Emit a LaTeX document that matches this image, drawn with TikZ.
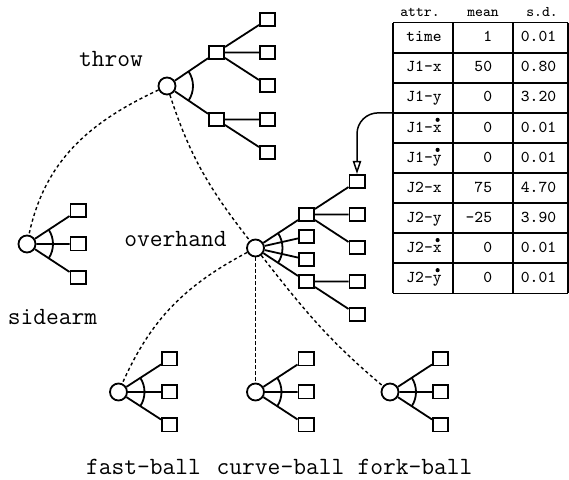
\documentclass[tikz,border=0pt]{standalone}
\usepackage{fontspec}
\usetikzlibrary{arrows.meta}

\begin{document}
\begin{tikzpicture}[x=0.5pt,y=-0.5pt,
  leaf/.style={draw, line width=0.9pt, minimum width=7.6pt, minimum height=6.6pt, inner sep=0pt},
  orn/.style={draw, circle, line width=0.9pt, minimum size=8.5pt, inner sep=0pt, fill=white},
  link/.style={line width=0.9pt},
  isa/.style={line width=0.7pt, dash pattern=on 1.6pt off 1.4pt},
  lbl/.style={font=\ttfamily\fontsize{12.4}{14}\selectfont, anchor=base, inner sep=0pt},
  cell/.style={font=\ttfamily\fontsize{8.3}{9}\selectfont, anchor=base, inner sep=0pt},
  head/.style={font=\ttfamily\fontsize{7.4}{8}\selectfont, anchor=base, inner sep=0pt},
  grid/.style={line width=0.8pt},
  pointer/.style={line width=0.75pt, rounded corners=10.5pt,
    -{Triangle[open, length=6.5pt, width=4.2pt, line width=0.75pt]}}]
\useasboundingbox (0,0) rectangle (569,480);

% ---------- throw ----------
\node[orn] (throw) at (167,86) {};
\node[leaf] (tA) at (216.5,52.5) {};
\node[leaf] (tB) at (216.5,119.5) {};
\node[leaf] (tA1) at (267.5,19.5) {};
\node[leaf] (tA2) at (267.5,52.5) {};
\node[leaf] (tA3) at (267.5,85.5) {};
\node[leaf] (tB1) at (267.5,119.5) {};
\node[leaf] (tB2) at (267.5,152.5) {};
\draw[link] (throw) -- (tA) (throw) -- (tB)
  (tA) -- (tA1) (tA) -- (tA2) (tA) -- (tA3) (tB) -- (tB1) (tB) -- (tB2);
\draw[link] (throw.center) ++(34:13pt) arc[start angle=34, end angle=-34, radius=13pt];
\node[lbl] (throwlbl) at (111,67) {throw};

% ---------- sidearm ----------
\node[orn] (side) at (27,244) {};
\node[leaf] (s1) at (78,210.5) {};
\node[leaf] (s2) at (78,244) {};
\node[leaf] (s3) at (78,277.5) {};
\draw[link] (side) -- (s1) (side) -- (s2) (side) -- (s3);
\draw[link] (side.center) ++(33.3:13pt) arc[start angle=33.3, end angle=-33.3, radius=13pt];
\node[lbl] (sidelbl) at (52.5,325) {sidearm};

% ---------- overhand ----------
\node[orn] (over) at (255.5,248) {};
\node[leaf] (oA) at (306.5,214.5) {};
\node[leaf] (oB) at (306.5,236.5) {};
\node[leaf] (oC) at (306.5,259.5) {};
\node[leaf] (oD) at (306.5,281.5) {};
\node[leaf] (oA1) at (357,181.5) {};
\node[leaf] (oA2) at (357,214.5) {};
\node[leaf] (oA3) at (357,247.5) {};
\node[leaf] (oD1) at (357,281.5) {};
\node[leaf] (oD2) at (357,314.5) {};
\draw[link] (over) -- (oA) (over) -- (oB) (over) -- (oC) (over) -- (oD)
  (oA) -- (oA1) (oA) -- (oA2) (oA) -- (oA3) (oD) -- (oD1) (oD) -- (oD2);
\draw[link] (over.center) ++(33.6:13.5pt) arc[start angle=33.6, end angle=-33.6, radius=13.5pt];
\node[lbl] (overlbl) at (175.5,247) {overhand};

% ---------- pitches ----------
\node[orn] (fast) at (118.5,392) {};
\node[leaf] (f1) at (169.5,359) {};
\node[leaf] (f2) at (169.5,392) {};
\node[leaf] (f3) at (169.5,425) {};
\node[orn] (curve) at (255.5,392) {};
\node[leaf] (c1) at (306,359) {};
\node[leaf] (c2) at (306,392) {};
\node[leaf] (c3) at (306,425) {};
\node[orn] (fork) at (390,392) {};
\node[leaf] (k1) at (440.5,359) {};
\node[leaf] (k2) at (440.5,392) {};
\node[leaf] (k3) at (440.5,425) {};
\draw[link] (fast) -- (f1) (fast) -- (f2) (fast) -- (f3)
  (curve) -- (c1) (curve) -- (c2) (curve) -- (c3)
  (fork) -- (k1) (fork) -- (k2) (fork) -- (k3);
\foreach \p in {fast,curve,fork}
  \draw[link] (\p.center) ++(33:13pt) arc[start angle=33, end angle=-33, radius=13pt];
\node[lbl] (fastlbl) at (143.5,475) {fast-ball};
\node[lbl] (curvelbl) at (280.5,475) {curve-ball};
\node[lbl] (forklbl) at (415,475) {fork-ball};

% ---------- specialisation links ----------
\draw[isa] (throw) to[out=205, in=78] (side);
\draw[isa] (throw) to[out=-72, in=128] (over);
\draw[isa] (over) to[out=208, in=66] (fast);
\draw[isa] (over) -- (curve);
\draw[isa] (over) to[out=-52, in=140] (fork);

% ---------- attribute table ----------
\foreach \x in {393,453,513,567.7}
  \draw[grid] (\x,22.7) -- (\x,293.3);
\foreach \i in {0,...,9}
  \draw[grid] (393,22.7+30.07*\i) -- (567.7,22.7+30.07*\i);
\node[head] (hA) at (420,16.5) {attr.};
\node[head] (hM) at (483,16.5) {mean};
\node[head] (hS) at (542,16.5) {s.d.};
% last field: 1 = the attribute is a rate (dot over its last letter)
\foreach \n/\a/\s/\d [count=\i from 0] in {
    time/1/0.01/0,
    J1-x/50/0.80/0,
    J1-y/0/3.20/0,
    J1-x/0/0.01/1,
    J1-y/0/0.01/1,
    J2-x/75/4.70/0,
    J2-y/-25/3.90/0,
    J2-x/0/0.01/1,
    J2-y/0/0.01/1} {
  \node[cell] (a\i) at (424,41.8+30.07*\i) {\n};
  \node[cell, anchor=base east] (m\i) at (492.5,41.8+30.07*\i) {\a};
  \node[cell] (s\i) at (538.5,41.8+30.07*\i) {\s};
  \ifnum\d=1
    \fill (a\i.base east) ++(-2.2pt,6.1pt) circle[radius=1.05pt];
  \fi
}

% pointer from the table into the overhand tree
\coordinate (tblport) at (393,112.9);
\draw[pointer] (tblport) -| (oA1.north);
\end{tikzpicture}
\end{document}
